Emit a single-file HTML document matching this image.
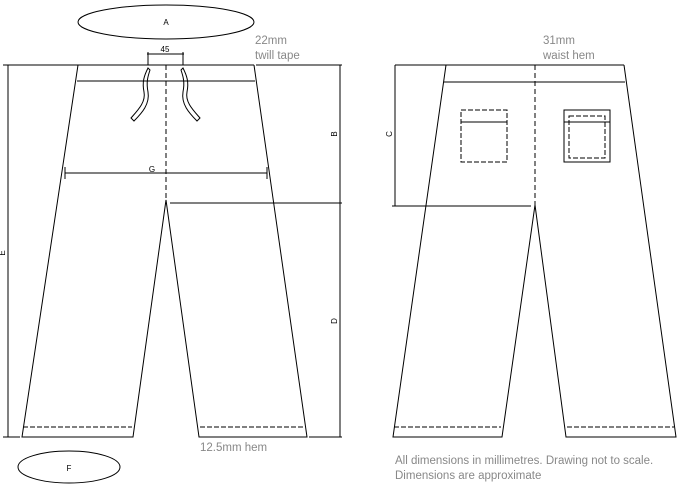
<!DOCTYPE html>
<html><head><meta charset="utf-8"><style>
html,body{margin:0;padding:0;background:#fff;width:677px;height:484px;overflow:hidden}
svg{display:block}
.t{font-family:"Liberation Sans",sans-serif;font-size:11.5px;fill:#888}
.s{font-family:"Liberation Sans",sans-serif;font-size:8px;fill:#000}
</style></head><body>
<svg width="677" height="484" viewBox="0 0 677 484" xmlns="http://www.w3.org/2000/svg">
<g fill="none" stroke="#000" stroke-width="1">
<!-- ellipses -->
<ellipse cx="166" cy="22" rx="88" ry="17"/>
<ellipse cx="69" cy="467" rx="51" ry="16"/>
<!-- FRONT -->
<line x1="78" y1="65" x2="254" y2="65"/>
<line x1="77" y1="81" x2="255" y2="81"/>
<polyline points="78,65 22,437 133,437 166,200 199,437 307,437 254,65"/>
<line x1="166" y1="65" x2="166" y2="200" stroke-dasharray="5,3"/>
<line x1="23" y1="427" x2="132" y2="427" stroke-dasharray="5,2"/>
<line x1="200" y1="427" x2="305" y2="427" stroke-dasharray="5,2"/>
<!-- 45 bracket -->
<line x1="148" y1="52" x2="148" y2="65"/><line x1="183" y1="52" x2="183" y2="65"/>
<line x1="147" y1="54" x2="184" y2="54"/>
<!-- ties -->
<path d="M148,68 C144,76 142,82 144,92 C146,102 138,110 131,118 L134,121 C142,113 150,104 148,92 C146,82 148,76 150,70 Z"/>
<path d="M183,68 C187,76 189,82 187,92 C185,102 193,110 200,118 L197,121 C189,113 181,104 183,92 C185,82 183,76 181,70 Z"/>
<!-- G -->
<line x1="65" y1="173" x2="267" y2="173"/>
<line x1="65" y1="167" x2="65" y2="179"/><line x1="267" y1="167" x2="267" y2="179"/>
<!-- E -->
<line x1="8" y1="65" x2="8" y2="437"/>
<line x1="3" y1="65" x2="78" y2="65"/>
<line x1="3" y1="437" x2="20" y2="437"/>
<!-- B / D -->
<line x1="256" y1="65" x2="342" y2="65"/>
<line x1="340" y1="65" x2="340" y2="437"/>
<line x1="170" y1="203" x2="342" y2="203"/>
<line x1="309" y1="437" x2="342" y2="437"/>
<!-- BACK -->
<line x1="395" y1="65" x2="624" y2="65"/>
<line x1="444" y1="82" x2="625" y2="82"/>
<polyline points="446,65 393,437 502,437 535,205 566,437 676,437 624,65"/>
<line x1="535" y1="65" x2="535" y2="205" stroke-dasharray="5,3"/>
<line x1="394" y1="427" x2="501" y2="427" stroke-dasharray="5,2"/>
<line x1="567" y1="427" x2="674" y2="427" stroke-dasharray="5,2"/>
<!-- C -->
<line x1="395" y1="65" x2="395" y2="206"/>
<line x1="392" y1="206" x2="531" y2="206"/>
<!-- pockets -->
<rect x="461" y="110" width="46" height="52" stroke-dasharray="5,2"/>
<line x1="461" y1="122" x2="507" y2="122"/>
<rect x="564" y="110" width="46" height="52"/>
<rect x="569" y="116" width="36" height="42" stroke-dasharray="5,2"/>
<line x1="564" y1="122" x2="610" y2="122"/>
</g>
<text class="s" x="166" y="25" text-anchor="middle">A</text>
<text class="s" x="69" y="471" text-anchor="middle">F</text>
<text class="s" x="165" y="52" text-anchor="middle">45</text>
<text class="s" x="152" y="172" text-anchor="middle">G</text>
<text class="s" transform="translate(337,134) rotate(-90)" text-anchor="middle">B</text>
<text class="s" transform="translate(337,321) rotate(-90)" text-anchor="middle">D</text>
<text class="s" transform="translate(5,253) rotate(-90)" text-anchor="middle">E</text>
<text class="s" transform="translate(392,134) rotate(-90)" text-anchor="middle">C</text>
<text class="t" x="255" y="44">22mm</text>
<text class="t" x="255" y="59">twill tape</text>
<text class="t" x="543" y="44">31mm</text>
<text class="t" x="543" y="59">waist hem</text>
<text class="t" x="200" y="451">12.5mm hem</text>
<text class="t" x="395" y="464">All dimensions in millimetres. Drawing not to scale.</text>
<text class="t" x="395" y="479">Dimensions are approximate</text>
</svg>
</body></html>
